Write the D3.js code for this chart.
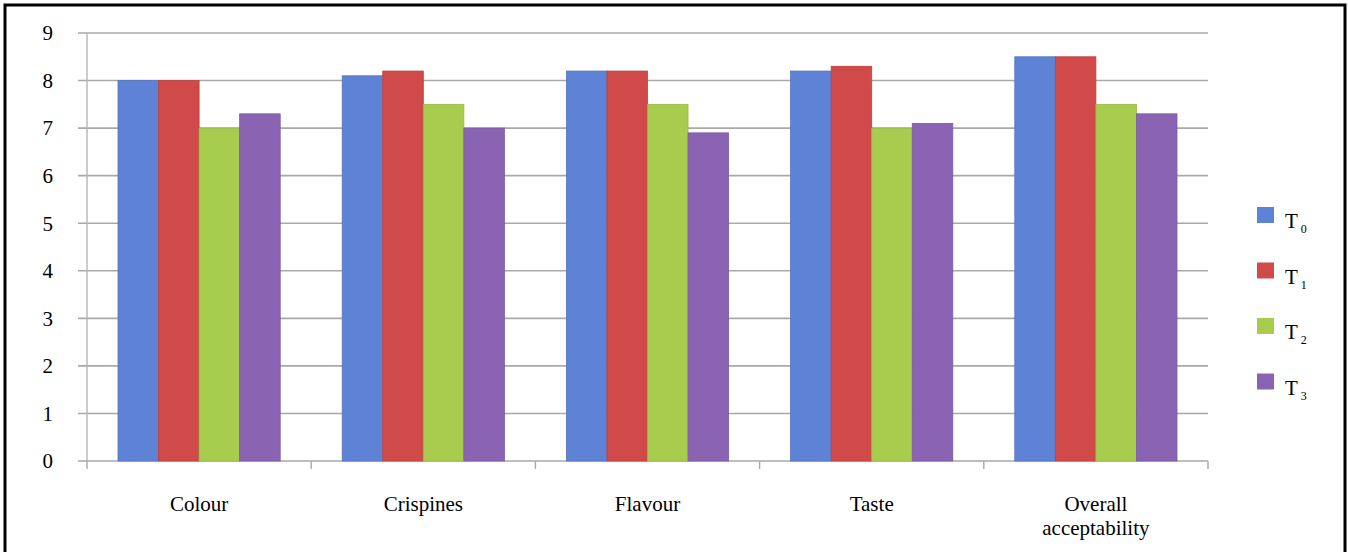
<!DOCTYPE html>
<html>
<head>
<meta charset="utf-8">
<script src="https://cdn.jsdelivr.net/npm/d3@7"></script>
<style>
  html, body { margin: 0; padding: 0; background: #fff; }
  svg { display: block; }
  svg text { font-family: "Times New Roman", Times, "Liberation Serif", Tinos, "DejaVu Serif", serif; }
</style>
</head>
<body>
<svg id="chart" width="1348" height="552"></svg>
<script>
// Sensory scores per attribute for four treatments
const categories = ["Colour", "Crispines", "Flavour", "Taste", "Overall acceptability"];
const seriesNames = ["T0", "T1", "T2", "T3"];
const T0 = [8.0, 8.1, 8.2, 8.2, 8.5];
const T1 = [8.0, 8.2, 8.2, 8.3, 8.5];
const T2 = [7.0, 7.5, 7.5, 7.0, 7.5];
const T3 = [7.3, 7.0, 6.9, 7.1, 7.3];
const yTicks = [0, 1, 2, 3, 4, 5, 6, 7, 8, 9];
const colors = ["#5e82d6", "#cf4a48", "#a8cd4e", "#8a64b3"];

const seriesValues = [T0, T1, T2, T3];

const svg = d3.select("#chart");

// Outer frame
svg.append("rect")
  .attr("x", 5).attr("y", 5)
  .attr("width", 1340).attr("height", 560)
  .attr("fill", "none").attr("stroke", "#000").attr("stroke-width", 3);

const plotLeft = 87, plotRight = 1208, plotTop = 33, plotBottom = 461;

const y = d3.scaleLinear().domain([0, 9]).range([plotBottom, plotTop]);
const x0 = d3.scaleBand().domain(categories).range([plotLeft, plotRight]).padding(0);
const x1 = d3.scaleBand().domain(seriesNames)
  .range([31, x0.bandwidth() - 31]).padding(0);

// Horizontal gridlines with left tick stubs
svg.append("g").selectAll("line")
  .data(yTicks)
  .join("line")
  .attr("x1", plotLeft - 9).attr("x2", plotRight)
  .attr("y1", d => y(d)).attr("y2", d => y(d))
  .attr("stroke", "#a9a9a9").attr("stroke-width", 1.6);

// Y axis line
svg.append("line")
  .attr("x1", plotLeft).attr("x2", plotLeft)
  .attr("y1", plotTop).attr("y2", plotBottom)
  .attr("stroke", "#b5b5b5").attr("stroke-width", 1.4);

// Y tick labels
svg.append("g").selectAll("text")
  .data(yTicks)
  .join("text")
  .attr("x", 53).attr("y", d => y(d))
  .attr("dy", "0.35em")
  .attr("text-anchor", "end")
  .attr("font-size", 21)
  .text(d => d);

// Category boundary ticks below the axis
const boundaries = categories.map(c => x0(c)).concat([plotRight]);
svg.append("g").selectAll("line")
  .data(boundaries)
  .join("line")
  .attr("x1", d => d).attr("x2", d => d)
  .attr("y1", plotBottom).attr("y2", plotBottom + 8)
  .attr("stroke", "#a9a9a9").attr("stroke-width", 1.4);

// Bars
const groups = svg.append("g").selectAll("g")
  .data(categories)
  .join("g")
  .attr("transform", c => `translate(${x0(c)},0)`);

groups.selectAll("rect")
  .data((c, i) => seriesNames.map((s, k) => ({ s, k, v: seriesValues[k][i] })))
  .join("rect")
  .attr("x", d => x1(d.s))
  .attr("y", d => y(d.v))
  .attr("width", x1.bandwidth())
  .attr("height", d => y(0) - y(d.v))
  .attr("fill", d => colors[d.k])
  .attr("stroke", d => d3.color(colors[d.k]).darker(0.3))
  .attr("stroke-width", 0.8);

// Category labels (wrapped onto two lines when long)
const labelG = svg.append("g");
categories.forEach(c => {
  const words = c.split(" ");
  const lines = words.length > 1 ? words : [c];
  const cx = x0(c) + x0.bandwidth() / 2;
  const t = labelG.append("text")
    .attr("text-anchor", "middle")
    .attr("font-size", 21)
    .attr("x", cx).attr("y", 511);
  lines.forEach((w, i) => {
    t.append("tspan").attr("x", cx).attr("dy", i === 0 ? 0 : 24).text(w);
  });
});

// Legend
const legend = svg.append("g");
seriesNames.forEach((s, k) => {
  const ly = 207 + k * 55.5;
  legend.append("rect")
    .attr("x", 1257).attr("y", ly)
    .attr("width", 17).attr("height", 16)
    .attr("fill", colors[k]);
  const t = legend.append("text")
    .attr("x", 1285).attr("y", ly + 21)
    .attr("font-size", 21);
  t.append("tspan").text(s.charAt(0));
  t.append("tspan").attr("dx", 3).attr("dy", 5).attr("font-size", 12).text(s.slice(1));
});
</script>
</body>
</html>
